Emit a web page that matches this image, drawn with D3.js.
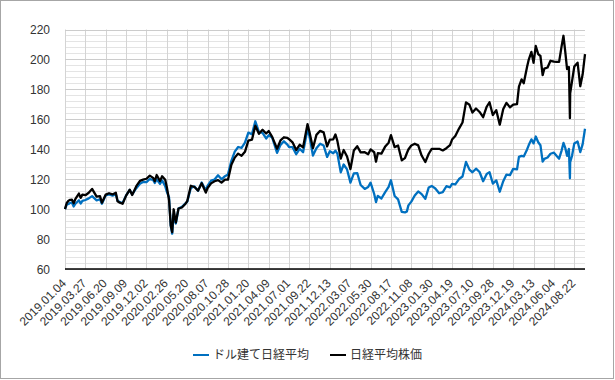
<!DOCTYPE html>
<html><head><meta charset="utf-8">
<script src="https://cdn.jsdelivr.net/npm/d3@7"></script>
<style>body{margin:0;background:#fff} svg{display:block}</style>
</head><body><svg id="c" width="615" height="380"></svg>
<script>
const tickLabels = ["2019.01.04","2019.03.27","2019.06.20","2019.09.09","2019.12.02","2020.02.26","2020.05.20","2020.08.07","2020.10.28","2021.01.20","2021.04.09","2021.07.01","2021.09.22","2021.12.13","2022.03.07","2022.05.30","2022.08.17","2022.11.08","2023.01.30","2023.04.19","2023.07.10","2023.09.28","2023.12.19","2024.03.13","2024.06.04","2024.08.22"];
const yTicks = [60,80,100,120,140,160,180,200,220];
const seriesNames = ["ドル建て日経平均","日経平均株価"];

const dates = [
"2019.01.04","2019.01.11","2019.01.18","2019.01.25","2019.02.01","2019.02.08","2019.02.15","2019.03.01","2019.03.08","2019.03.15",
"2019.03.27","2019.04.10","2019.04.24","2019.05.13","2019.05.27","2019.06.04","2019.06.20","2019.07.03","2019.07.17","2019.07.30",
"2019.08.06","2019.08.15","2019.08.26","2019.09.09","2019.09.24","2019.10.04","2019.10.21","2019.11.05","2019.11.18","2019.12.02",
"2019.12.16","2019.12.30","2020.01.06","2020.01.14","2020.01.28","2020.02.06","2020.02.19","2020.02.26","2020.03.06","2020.03.13",
"2020.03.19","2020.03.25","2020.04.03","2020.04.14","2020.04.28","2020.05.13","2020.05.20","2020.06.03","2020.06.17","2020.07.01",
"2020.07.15","2020.07.31","2020.08.07","2020.08.21","2020.09.04","2020.09.18","2020.10.02","2020.10.16","2020.10.28","2020.11.11",
"2020.11.25","2020.12.09","2020.12.23","2021.01.06","2021.01.20","2021.02.03","2021.02.16","2021.03.02","2021.03.16","2021.03.30",
"2021.04.09","2021.04.23","2021.05.13","2021.05.27","2021.06.10","2021.06.24","2021.07.01","2021.07.15","2021.07.30","2021.08.13",
"2021.08.27","2021.09.14","2021.09.22","2021.10.06","2021.10.20","2021.11.04","2021.11.18","2021.12.02","2021.12.13","2021.12.27",
"2022.01.05","2022.01.13","2022.01.27","2022.02.08","2022.02.22","2022.03.08","2022.03.22","2022.04.05","2022.04.19","2022.05.06",
"2022.05.20","2022.05.30","2022.06.13","2022.06.20","2022.06.27","2022.07.11","2022.07.25","2022.08.08","2022.08.17","2022.09.01",
"2022.09.15","2022.09.30","2022.10.13","2022.10.21","2022.10.27","2022.11.08","2022.11.22","2022.12.06","2022.12.20","2023.01.04",
"2023.01.18","2023.01.30","2023.02.13","2023.02.28","2023.03.14","2023.03.28","2023.04.11","2023.04.19","2023.05.02","2023.05.17",
"2023.05.31","2023.06.14","2023.06.28","2023.07.10","2023.07.24","2023.08.07","2023.08.21","2023.09.04","2023.09.15","2023.09.28",
"2023.10.12","2023.10.26","2023.11.09","2023.11.22","2023.12.06","2023.12.19","2024.01.04","2024.01.12","2024.01.23","2024.02.01",
"2024.02.15","2024.02.22","2024.03.04","2024.03.13","2024.03.22","2024.04.01","2024.04.10","2024.04.19","2024.04.26","2024.05.09",
"2024.05.21","2024.06.04","2024.06.14","2024.06.24","2024.07.04","2024.07.11","2024.07.18","2024.07.25","2024.08.01","2024.08.05",
"2024.08.06","2024.08.13","2024.08.22","2024.09.02","2024.09.11","2024.09.19","2024.09.27"];

const nikkei = [
100.0,104.1,105.6,106.2,106.3,103.9,106.8,110.4,107.5,109.7,
109.3,110.9,113.5,108.3,108.7,104.3,109.7,110.6,109.8,111.0,
105.2,104.3,103.6,109.0,113.0,109.4,115.3,118.9,119.7,120.3,
122.4,120.9,118.6,122.8,118.7,122.0,119.6,114.6,106.1,89.1,
84.6,99.9,91.1,100.4,101.1,103.6,105.3,115.6,114.8,112.4,
117.3,111.0,114.1,117.2,118.6,119.4,117.7,119.7,119.7,129.6,
134.4,137.1,135.6,138.3,145.8,146.4,155.7,150.3,153.0,150.5,
152.2,148.3,140.3,145.9,148.0,147.6,146.7,144.6,139.5,143.0,
141.3,156.8,151.5,140.7,149.6,152.3,151.3,141.9,146.4,146.6,
149.9,145.6,133.8,139.5,135.2,126.7,139.2,142.0,137.9,138.0,
136.7,139.9,138.0,131.7,137.4,137.1,141.6,144.4,149.4,141.4,
142.5,132.6,134.1,137.5,139.8,142.5,143.7,142.6,135.8,131.5,
137.0,140.2,140.2,140.3,139.2,140.7,142.7,146.5,148.9,153.8,
157.9,171.3,169.7,164.5,167.2,164.9,161.4,168.4,171.4,162.9,
166.1,156.4,166.9,171.0,168.0,169.8,170.2,181.9,186.7,184.1,
195.1,199.9,205.0,197.8,209.0,203.5,202.3,189.5,193.9,194.6,
199.1,198.5,198.4,198.4,209.1,215.8,205.1,193.6,194.9,160.8,
177.3,185.2,195.3,197.8,182.1,189.9,203.6];

const dollar = [
100.0,103.0,103.4,104.2,104.3,101.8,103.6,105.9,103.7,105.5,
106.1,107.2,108.7,105.9,106.6,103.6,109.2,109.8,109.0,110.0,
105.6,104.8,104.0,109.2,112.8,109.8,114.0,117.0,118.1,118.0,
120.1,119.5,117.5,119.9,116.9,119.2,115.3,111.5,107.9,89.0,
83.6,96.3,90.4,100.4,101.5,103.8,104.9,114.1,115.2,112.2,
117.8,112.6,115.7,119.0,119.8,122.6,119.9,122.0,123.2,132.3,
138.4,141.5,140.9,144.4,151.1,150.0,158.7,151.6,150.9,147.2,
149.4,147.9,137.6,142.9,145.3,143.1,141.5,141.4,136.7,140.3,
138.0,153.4,148.7,135.8,140.7,143.7,142.5,134.9,138.7,137.3,
139.0,137.1,124.6,129.8,126.5,117.7,123.9,124.1,116.1,113.5,
114.8,117.7,110.1,104.7,108.9,107.1,111.2,114.8,119.3,108.8,
106.5,98.2,97.8,98.5,102.5,105.0,109.1,111.8,110.0,106.9,
114.5,115.5,113.8,110.6,111.3,115.3,114.6,116.9,116.5,120.1,
121.8,131.5,126.4,124.6,127.0,124.8,118.6,123.5,124.7,117.1,
119.2,111.6,118.7,123.1,122.7,126.9,126.6,134.9,135.6,135.2,
139.9,142.8,146.6,143.9,148.5,144.7,142.7,131.7,133.6,134.5,
137.0,137.7,135.6,133.7,139.3,144.2,140.9,135.6,140.2,120.6,
131.4,135.5,143.9,145.2,138.1,143.3,153.7];

const W = 615, H = 380;
const plotLeft = 65, plotTop = 29.5, plotRight = 585, plotBottom = 269;
const plotW = plotRight - plotLeft, plotH = plotBottom - plotTop;

const svg = d3.select("#c");
svg.append("rect").attr("width", W).attr("height", H).attr("fill", "#fff");
svg.append("rect").attr("x", 0.5).attr("y", 0.5).attr("width", 613).attr("height", 378)
  .attr("fill", "none").attr("stroke", "#a6a6a6").attr("stroke-width", 1);

const parse = d3.timeParse("%Y.%m.%d");
const tickDates = tickLabels.map(parse);
const endDate = parse(dates[dates.length - 1]);
const step = plotW / 25.525;
const x = d3.scaleTime()
  .domain(tickDates.concat([endDate]))
  .range(tickDates.map((d, i) => i * step).concat([plotW]));
const y = d3.scaleLinear().domain([60, 220]).range([plotH, 0]);

const g = svg.append("g").attr("transform", `translate(${plotLeft},${plotTop})`);
const snapY = v => Math.round(y(v) + plotTop) - plotTop + 0.5;
const snapX = d => Math.round(x(d) + plotLeft) - plotLeft + 0.5;

// minor horizontal gridlines
const minor = d3.range(60, 221, 4).filter(v => v % 20 !== 0);
g.append("g").selectAll("line").data(minor).join("line")
  .attr("x1", 0).attr("x2", plotW)
  .attr("y1", snapY).attr("y2", snapY)
  .attr("stroke", "#e4e4e4").attr("stroke-width", 1);

// vertical gridlines
g.append("g").selectAll("line").data(tickDates).join("line")
  .attr("x1", snapX).attr("x2", snapX)
  .attr("y1", 0).attr("y2", plotH)
  .attr("stroke", "#d4d4d4").attr("stroke-width", 1);

// major horizontal gridlines
g.append("g").selectAll("line").data(yTicks).join("line")
  .attr("x1", 0).attr("x2", plotW)
  .attr("y1", snapY).attr("y2", snapY)
  .attr("stroke", "#cccccc").attr("stroke-width", 1);

// y labels
g.append("g").selectAll("text").data(yTicks).join("text")
  .attr("x", -15).attr("y", d => y(d)).attr("dy", "0.38em")
  .attr("text-anchor", "end")
  .attr("font-family", "'Liberation Sans', Arial, sans-serif").attr("font-size", 12)
  .attr("fill", "#333").text(d => d);

// x axis line
g.append("line").attr("x1", 0).attr("x2", plotW).attr("y1", plotH).attr("y2", plotH)
  .attr("stroke", "#000").attr("stroke-width", 1.5);

// x labels
g.append("g").selectAll("text").data(tickLabels).join("text")
  .attr("transform", (d, i) => `translate(${x(tickDates[i]) - 1},${plotH + 12}) rotate(-45)`)
  .attr("dy", "0.35em").attr("text-anchor", "end")
  .attr("font-family", "'Liberation Sans', Arial, sans-serif").attr("font-size", 12)
  .attr("fill", "#333").text(d => d);

const dParsed = dates.map(parse);
const line = d3.line().x((d, i) => x(dParsed[i])).y(d => y(d));

g.append("path").datum(dollar).attr("d", line)
  .attr("fill", "none").attr("stroke", "#0070C0").attr("stroke-width", 2.3).attr("stroke-linejoin", "round");
g.append("path").datum(nikkei).attr("d", line)
  .attr("fill", "none").attr("stroke", "#000").attr("stroke-width", 2.3).attr("stroke-linejoin", "round");

// legend
const legendColors = ["#0070C0", "#000"];
const legendX = [193, 330];
const lg = svg.append("g");
seriesNames.forEach((name, i) => {
  lg.append("line").attr("x1", legendX[i]).attr("x2", legendX[i] + 16)
    .attr("y1", 355).attr("y2", 355).attr("stroke", legendColors[i]).attr("stroke-width", 2);
  lg.append("text").attr("x", legendX[i] + 20).attr("y", 355).attr("dy", "0.36em")
    .attr("font-family", "'Noto Sans CJK JP', sans-serif").attr("font-size", 12)
    .attr("fill", "#333").text(name);
});
</script>
</body></html>
